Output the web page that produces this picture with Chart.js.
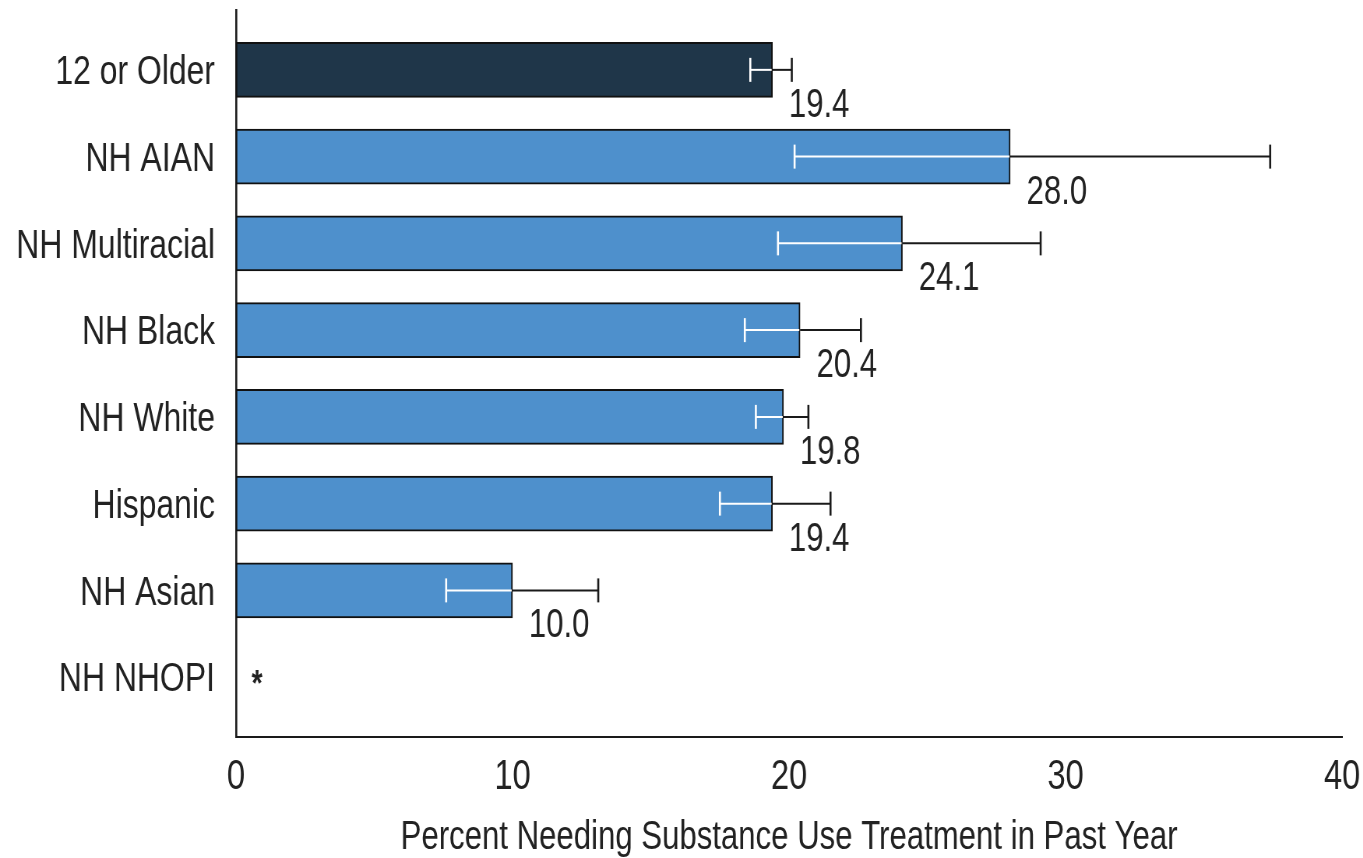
<!DOCTYPE html>
<html>
<head>
<meta charset="utf-8">
<script src="https://cdn.jsdelivr.net/npm/chart.js@4.4.1/dist/chart.umd.min.js"></script>
<style>
  html, body { margin: 0; padding: 0; background: #ffffff; overflow: hidden; }
  /* The chart is laid out wider and squeezed horizontally, giving the narrow
     condensed lettering of the printed figure. */
  #wrap { width: 1750px; height: 858px; transform: scaleX(0.7789); transform-origin: 0 0; }
  canvas { display: block; }
</style>
</head>
<body>
<div id="wrap"><canvas id="chart" width="1750" height="858"></canvas></div>
<script>
// Groups shown on the vertical axis, top to bottom
const categories = ['12 or Older', 'NH AIAN', 'NH Multiracial', 'NH Black', 'NH White', 'Hispanic', 'NH Asian', 'NH NHOPI'];
// Percent needing substance use treatment in past year (null = estimate suppressed)
const values = [19.4, 28.0, 24.1, 20.4, 19.8, 19.4, 10.0, null];
// 95% confidence interval bounds
const ciLower = [18.6, 20.2, 19.6, 18.4, 18.8, 17.5, 7.6, null];
const ciUpper = [20.1, 37.4, 29.1, 22.6, 20.7, 21.5, 13.1, null];
// Value labels printed beside each bar
const valueLabels = ['19.4', '28.0', '24.1', '20.4', '19.8', '19.4', '10.0', '*'];
// X axis tick values
const xTicks = [0, 10, 20, 30, 40];

const FONT = "'Liberation Sans', Arial, sans-serif";
const TEXT = '#222222';
const DARK = '#1f3649';
const BLUE = '#4e90cc';

// Confidence-interval whiskers: white where they overlap the bar, black outside it
const errorBars = {
  id: 'errorBars',
  afterDatasetsDraw(chart) {
    const { ctx, scales: { x, y } } = chart;
    ctx.save();
    const cap = 12;
    values.forEach((v, i) => {
      if (v === null || ciLower[i] === null) return;
      const cy = y.getPixelForValue(i);
      const xl = x.getPixelForValue(ciLower[i]);
      const xh = x.getPixelForValue(ciUpper[i]);
      const xv = x.getPixelForValue(v);
      // inside the bar
      ctx.strokeStyle = '#ffffff';
      ctx.lineWidth = 2;
      ctx.beginPath();
      ctx.moveTo(xl, cy); ctx.lineTo(xv - 1, cy);
      ctx.stroke();
      ctx.lineWidth = 2.6;
      ctx.beginPath();
      ctx.moveTo(xl, cy - cap); ctx.lineTo(xl, cy + cap);
      ctx.stroke();
      // beyond the bar end
      ctx.strokeStyle = '#1a1a1a';
      ctx.lineWidth = 2;
      ctx.beginPath();
      ctx.moveTo(xv, cy); ctx.lineTo(xh, cy);
      ctx.stroke();
      ctx.lineWidth = 2.6;
      ctx.beginPath();
      ctx.moveTo(xh, cy - cap); ctx.lineTo(xh, cy + cap);
      ctx.stroke();
    });
    ctx.restore();
  }
};

// Value labels below-right of each bar end; "*" for suppressed estimates
const valueText = {
  id: 'valueText',
  afterDatasetsDraw(chart) {
    const { ctx, scales: { x, y } } = chart;
    ctx.save();
    ctx.fillStyle = TEXT;
    ctx.textBaseline = 'middle';
    values.forEach((v, i) => {
      const cy = y.getPixelForValue(i);
      if (v === null) {
        ctx.font = 'bold 36px ' + FONT;
        ctx.textAlign = 'center';
        ctx.fillText(valueLabels[i], x.getPixelForValue(0) + 27, cy + 9);
      } else {
        ctx.font = '40px ' + FONT;
        ctx.textAlign = 'left';
        ctx.fillText(valueLabels[i], x.getPixelForValue(v) + 21, cy + 36);
      }
    });
    ctx.restore();
  }
};

new Chart(document.getElementById('chart'), {
  type: 'bar',
  data: {
    datasets: [{
      data: values.map((v, i) => ({ x: v, y: i })),
      backgroundColor: values.map((v, i) => i === 0 ? DARK : BLUE),
      borderColor: '#111111',
      borderWidth: 2,
      borderSkipped: false,
      barThickness: 55
    }]
  },
  options: {
    indexAxis: 'y',
    responsive: false,
    animation: false,
    events: [],
    layout: { padding: { top: 10, right: 27, bottom: 0, left: 0 } },
    plugins: { legend: { display: false }, tooltip: { enabled: false } },
    scales: {
      x: {
        type: 'linear',
        min: 0,
        max: 40,
        offset: false,
        afterBuildTicks: (s) => { s.ticks = xTicks.map(v => ({ value: v })); },
        afterFit: (s) => { s.height = 121; s.paddingLeft = 0; s.paddingRight = 0; },
        grid: { display: false, drawTicks: false },
        border: { display: true, color: '#1a1a1a', width: 2 },
        ticks: { color: TEXT, font: { family: FONT, size: 42 }, padding: 15, maxRotation: 0 },
        title: {
          display: true,
          text: 'Percent Needing Substance Use Treatment in Past Year',
          color: TEXT,
          font: { family: FONT, size: 40, lineHeight: 1 },
          padding: { top: 0, bottom: 0 }
        }
      },
      y: {
        type: 'linear',
        reverse: true,
        offset: false,
        min: -0.69,
        max: 7.69,
        afterBuildTicks: (s) => { s.ticks = categories.map((c, i) => ({ value: i })); },
        afterFit: (s) => { s.width = 303; s.paddingTop = 0; s.paddingBottom = 0; },
        grid: { display: false, drawTicks: false },
        border: { display: true, color: '#1a1a1a', width: 2.6 },
        ticks: {
          color: TEXT,
          font: { family: FONT, size: 41 },
          padding: 27,
          labelOffset: 3,
          autoSkip: false,
          callback: (v) => categories[v] ?? ''
        }
      }
    }
  },
  plugins: [errorBars, valueText]
});
</script>
</body>
</html>
